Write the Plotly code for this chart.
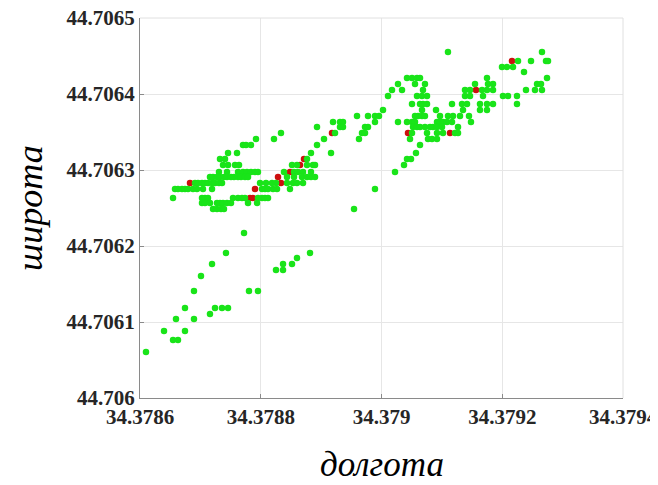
import plotly.graph_objects as go

# Longitude tick values / labels
x_ticks = [34.3786, 34.3788, 34.3790, 34.3792, 34.3794]
x_ticktext = ["34.3786", "34.3788", "34.379", "34.3792", "34.3794"]
y_ticks = [44.7060, 44.7061, 44.7062, 44.7063, 44.7064, 44.7065]
y_ticktext = ["44.706", "44.7061", "44.7062", "44.7063", "44.7064", "44.7065"]

# Green points: grouped by latitude row
green_lat_rows = [
    44.7064553, 44.7064434, 44.7064355, 44.7064289, 44.7064211, 44.7064132,
    44.7064053, 44.7063974, 44.7063868, 44.7063789, 44.7063711, 44.7063632,
    44.7063566, 44.7063487, 44.7063408, 44.7063329, 44.7063224, 44.7063145,
    44.7063066, 44.7062974, 44.7062908, 44.7062829, 44.7062750, 44.7062632,
    44.7062566, 44.7062487, 44.7062171, 44.7061908, 44.7061842, 44.7061763,
    44.7061684, 44.7061605, 44.7061408, 44.7061184, 44.7061105, 44.7061039,
    44.7060882, 44.7060763, 44.7060605, 44.7060526,
]
green_lon_rows = [
    [34.3791101, 34.3792658],
    [34.3792261, 34.3792476, 34.3792725, 34.3792758],
    [34.3791996, 34.3792079, 34.3792178],
    [34.3792360],
    [34.3790422, 34.3790505, 34.3790588, 34.3790638, 34.3791747, 34.3792741],
    [34.3790273, 34.3790555, 34.3790720, 34.3791549, 34.3791764, 34.3791847, 34.3792576, 34.3792642],
    [34.3790174, 34.3790340, 34.3790687, 34.3791383, 34.3791466, 34.3791665, 34.3791747, 34.3791847,
     34.3792393, 34.3792542, 34.3792658],
    [34.3790108, 34.3790588, 34.3790671, 34.3790754, 34.3791383, 34.3791466, 34.3791681, 34.3792012,
     34.3792095, 34.3792244],
    [34.3790505, 34.3790638, 34.3790687, 34.3790754, 34.3791168, 34.3791333, 34.3791416, 34.3791631,
     34.3791747, 34.3791847, 34.3792244],
    [34.3790025, 34.3790671, 34.3790903, 34.3791350, 34.3791631, 34.3791747],
    [34.3789594, 34.3789776, 34.3789892, 34.3789959, 34.3790555, 34.3790605, 34.3790671, 34.3790720,
     34.3790969, 34.3791101, 34.3791184, 34.3791300, 34.3791449],
    [34.3789197, 34.3789313, 34.3789362, 34.3789892, 34.3790273, 34.3790422, 34.3790505, 34.3790555,
     34.3790919, 34.3790969, 34.3791019, 34.3791085, 34.3791168, 34.3791482],
    [34.3788932, 34.3789313, 34.3789362, 34.3789727, 34.3789776, 34.3790522, 34.3790588, 34.3790638,
     34.3790720, 34.3790803, 34.3790853, 34.3790919, 34.3791002, 34.3791267],
    [34.3788335, 34.3789230, 34.3789677, 34.3789727, 34.3790505, 34.3790754, 34.3790919, 34.3791019,
     34.3791217, 34.3791267],
    [34.3787921, 34.3788219, 34.3789048, 34.3789627, 34.3790472, 34.3790770, 34.3790836, 34.3790919],
    [34.3787706, 34.3787756, 34.3787838, 34.3788932, 34.3790638],
    [34.3787458, 34.3787607, 34.3788832, 34.3789164, 34.3790571],
    [34.3787325, 34.3787408, 34.3788766, 34.3790422, 34.3790489],
    [34.3787375, 34.3787458, 34.3787574, 34.3787640, 34.3788518, 34.3788600, 34.3788766, 34.3788865,
     34.3788899, 34.3790373],
    [34.3787308, 34.3787441, 34.3787623, 34.3787706, 34.3787772, 34.3787838, 34.3787905, 34.3787954,
     34.3788385, 34.3788551, 34.3788617, 34.3788700, 34.3788832, 34.3790224],
    [34.3787159, 34.3787209, 34.3787275, 34.3787325, 34.3787391, 34.3787441, 34.3787507, 34.3787557,
     34.3787623, 34.3787673, 34.3787739, 34.3787789, 34.3788435, 34.3788551, 34.3788683, 34.3788766,
     34.3788832, 34.3788899],
    [34.3786911, 34.3786961, 34.3787027, 34.3787077, 34.3787126, 34.3787193, 34.3787242, 34.3787308,
     34.3787358, 34.3787988, 34.3788087, 34.3788186, 34.3788253, 34.3788435, 34.3788534, 34.3788600,
     34.3788700],
    [34.3786580, 34.3786629, 34.3786696, 34.3786745, 34.3786795, 34.3786878, 34.3786944, 34.3787043,
     34.3787193, 34.3788021, 34.3788070, 34.3788120, 34.3788203, 34.3788269, 34.3788484, 34.3789892],
    [34.3786547, 34.3787027, 34.3787077, 34.3787126, 34.3787540, 34.3787623, 34.3787689, 34.3787739,
     34.3787954, 34.3788021, 34.3788070, 34.3788120],
    [34.3787027, 34.3787077, 34.3787159, 34.3787275, 34.3787325, 34.3787375, 34.3787441, 34.3787507,
     34.3787789, 34.3787938],
    [34.3787209, 34.3787275, 34.3787342, 34.3787391, 34.3789545],
    [34.3787723],
    [34.3787424, 34.3788816],
    [34.3788600],
    [34.3787193, 34.3788369, 34.3788518],
    [34.3788253, 34.3788369],
    [34.3787010],
    [34.3786894, 34.3787805, 34.3787954],
    [34.3786745, 34.3787242, 34.3787358, 34.3787458],
    [34.3787159],
    [34.3786596, 34.3786894],
    [34.3786398, 34.3786745],
    [34.3786547, 34.3786629],
    [34.3786099],
    [34.3785983],
]

# Red points
red_lon = [34.3786828, 34.3787822, 34.3787872, 34.3787905, 34.3788286, 34.3788335, 34.3788484,
           34.3788650, 34.3788716, 34.3789180, 34.3790439, 34.3791135, 34.3791565, 34.3792161]
red_lat = [44.7062829, 44.7062632, 44.7062632, 44.7062750, 44.7062908, 44.7062829, 44.7062974,
           44.7063066, 44.7063145, 44.7063487, 44.7063487, 44.7063487, 44.7064053, 44.7064434]

green_lon, green_lat = [], []
for lat, lons in zip(green_lat_rows, green_lon_rows):
    for lon in lons:
        green_lon.append(lon)
        green_lat.append(lat)

fig = go.Figure()
fig.add_trace(go.Scatter(x=red_lon, y=red_lat, mode="markers",
                         marker=dict(color="rgb(205,15,15)", size=6.5, line=dict(width=0)),
                         showlegend=False, cliponaxis=False))
fig.add_trace(go.Scatter(x=green_lon, y=green_lat, mode="markers",
                         marker=dict(color="rgb(25,228,25)", size=6.5, line=dict(width=0)),
                         showlegend=False, cliponaxis=False))

tick_font = dict(family="Liberation Serif", size=21, color="#262626", weight="bold")
axis_common = dict(showgrid=True, gridcolor="#e6e6e6", gridwidth=1, zeroline=False,
                   showline=True, linecolor="#8a8a8a", linewidth=1, automargin=False,
                   ticklabeloverflow="allow",
                   ticks="inside", ticklen=4, tickcolor="#8a8a8a", tickfont=tick_font)

fig.update_layout(
    width=650, height=477,
    margin=dict(l=132, r=35, t=10, b=87),
    paper_bgcolor="white", plot_bgcolor="white",
    xaxis=dict(range=[34.3786, 34.3794], tickvals=x_ticks, ticktext=x_ticktext, **axis_common),
    yaxis=dict(range=[44.7060, 44.7065], tickvals=y_ticks, ticktext=y_ticktext, **axis_common),
    shapes=[
        dict(type="line", xref="paper", yref="paper", x0=0, x1=1, y0=1, y1=1,
             line=dict(color="#e0e0e0", width=1)),
        dict(type="line", xref="paper", yref="paper", x0=1, x1=1, y0=0, y1=1,
             line=dict(color="#e0e0e0", width=1)),
    ],
    annotations=[
        dict(text="долгота", xref="paper", yref="paper", x=0.5, y=-0.176, yanchor="middle",
             xanchor="center", showarrow=False,
             font=dict(family="Liberation Serif", size=35, color="black", style="italic")),
        dict(text="широта", xref="paper", yref="paper", x=-0.228, y=0.5, xanchor="center",
             yanchor="middle", textangle=-90, showarrow=False,
             font=dict(family="Liberation Serif", size=36, color="black", style="italic")),
    ],
)

fig.write_html("out.html")
